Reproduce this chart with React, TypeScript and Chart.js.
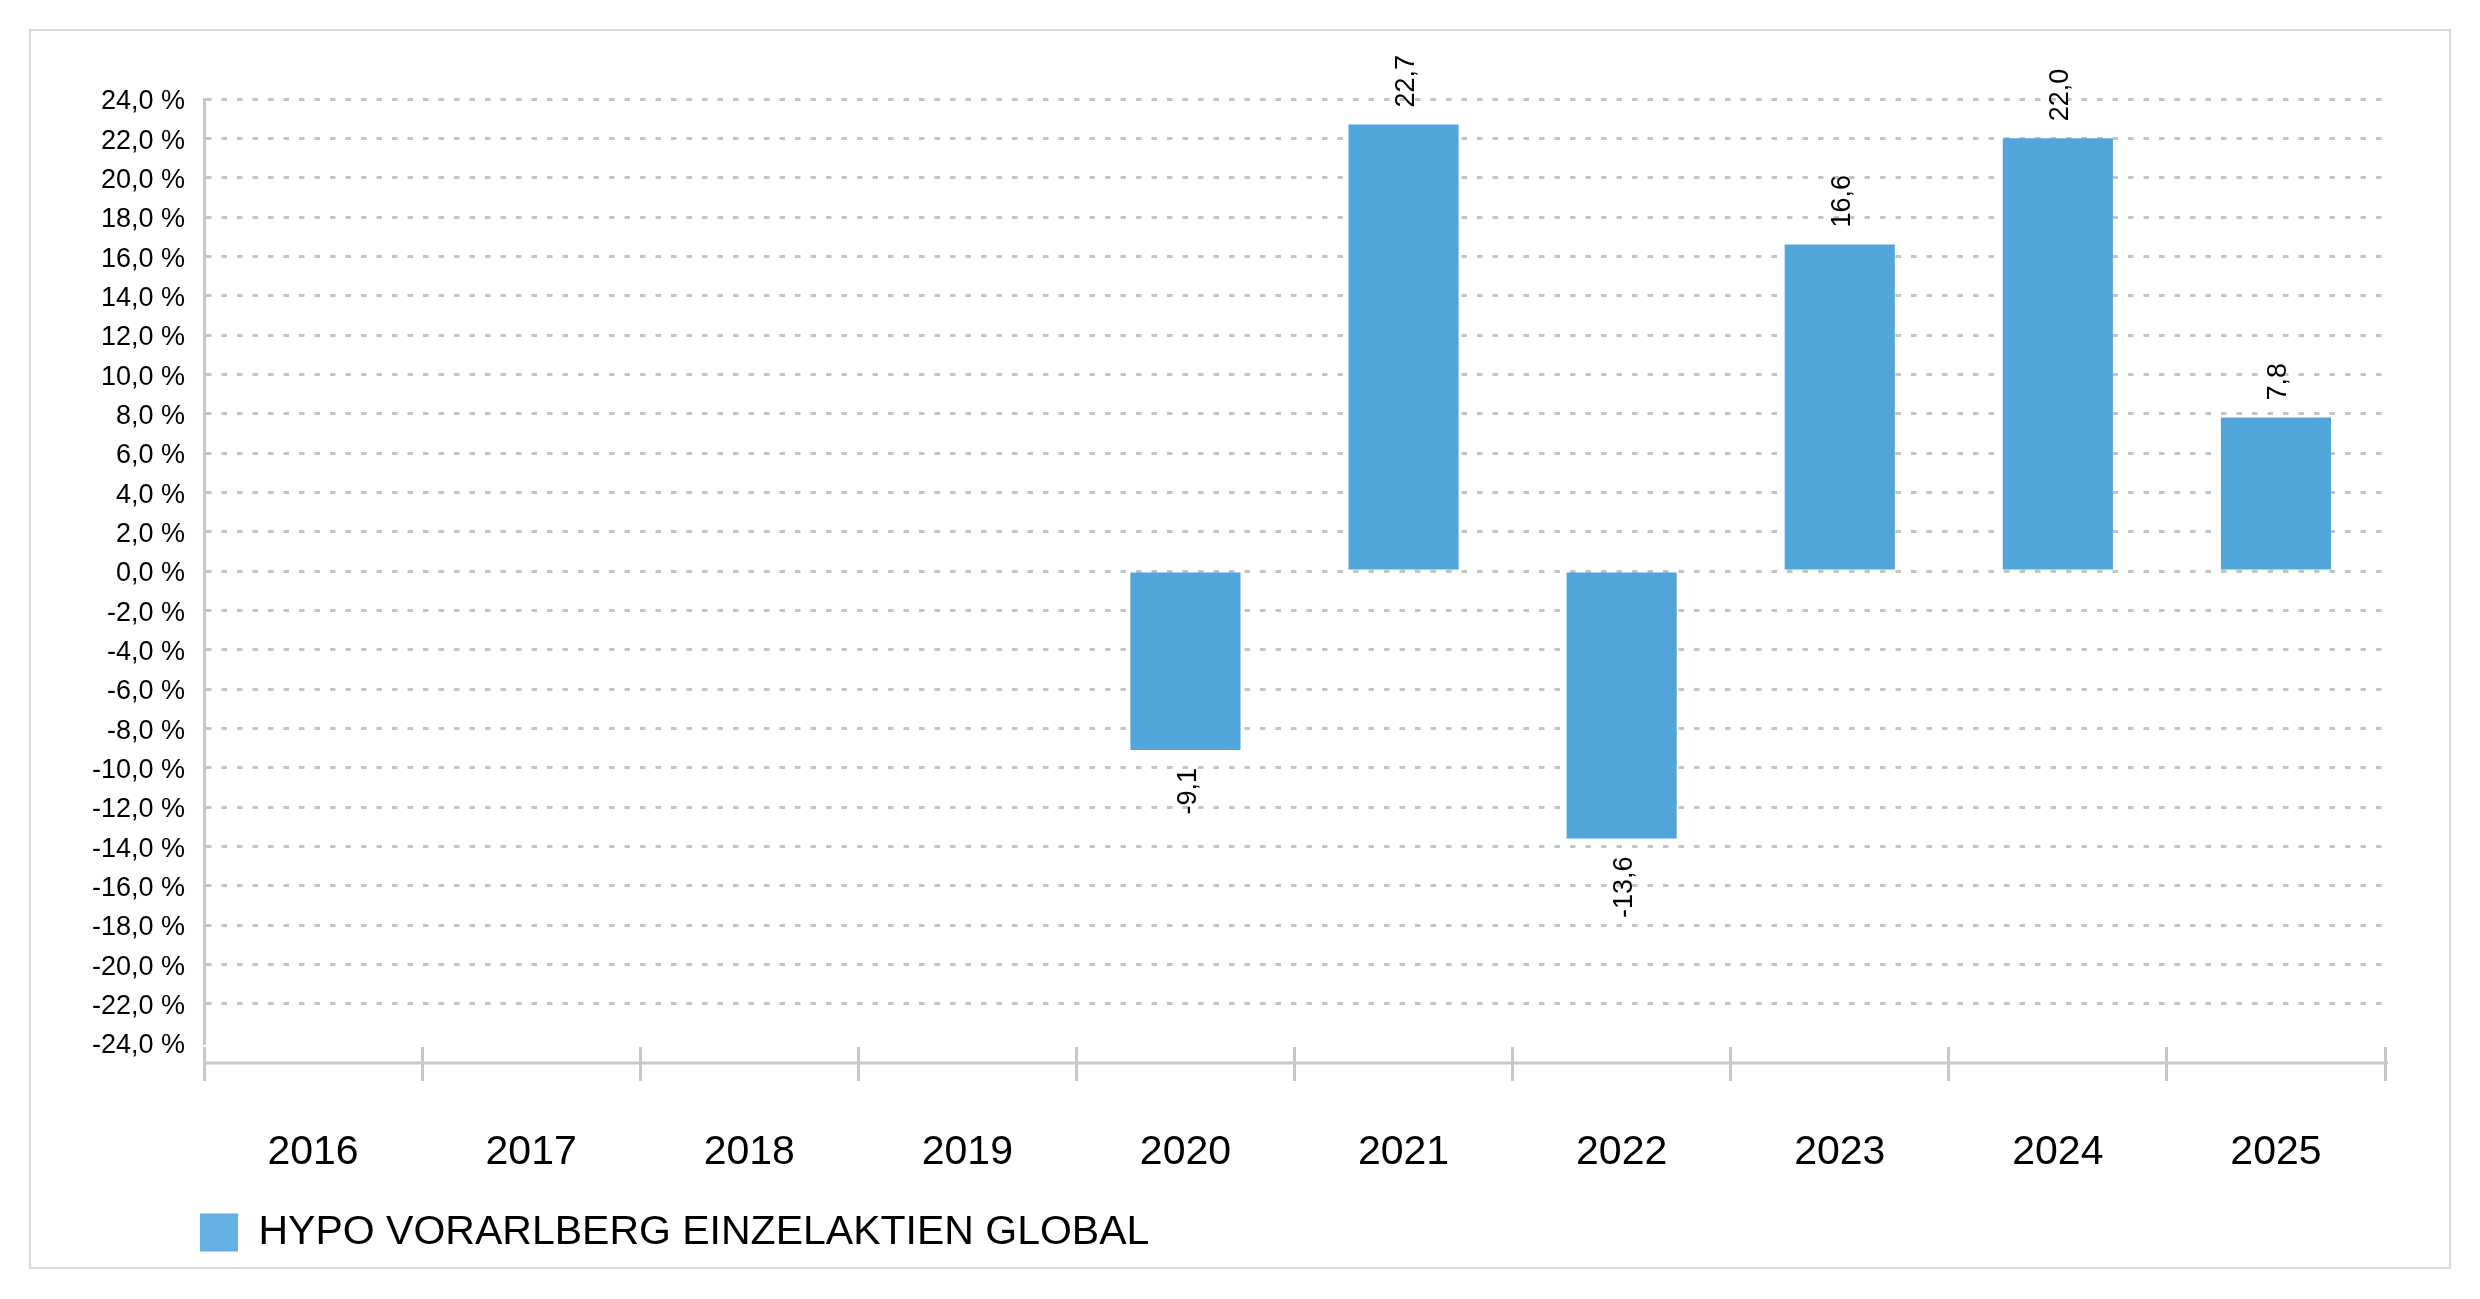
import React, { useEffect, useRef } from "react";
import { Chart, registerables } from "chart.js";

Chart.register(...registerables);

const categories = ["2016", "2017", "2018", "2019", "2020", "2021", "2022", "2023", "2024", "2025"];
const seriesName = "HYPO VORARLBERG EINZELAKTIEN GLOBAL";
const seriesValues: (number | null)[] = [null, null, null, null, -9.1, 22.7, -13.6, 16.6, 22.0, 7.8];
const yMin = -24;
const yMax = 24;
const yStep = 2;

const FONT = "'Liberation Sans', Arial, sans-serif";
const BAR_COLOR = "#51A5DB";
const LEGEND_COLOR = "#62B0E5";
const AXIS_COLOR = "#c8c8c8";
const GRID_COLOR = "#c4c4c4";

const fmt = (v: number) => v.toFixed(1).replace(".", ",");

const framePlugin = {
  id: "frame",
  beforeDraw(chart: any) {
    const { ctx } = chart;
    ctx.save();
    ctx.fillStyle = "#ffffff";
    ctx.fillRect(0, 0, chart.width, chart.height);
    ctx.strokeStyle = "#dadada";
    ctx.lineWidth = 2;
    ctx.strokeRect(30, 30, 2420, 1238);
    ctx.restore();
  },
};

const legendShiftPlugin = {
  id: "legendShift",
  afterLayout(chart: any) {
    const lg = chart.legend;
    if (lg) {
      const w = lg.right - lg.left;
      lg.left = 190;
      lg.right = 190 + w;
    }
  },
};

const xAxisLinePlugin = {
  id: "xAxisLine",
  afterDraw(chart: any) {
    const { ctx } = chart;
    const xs = chart.scales.x;
    ctx.save();
    ctx.strokeStyle = AXIS_COLOR;
    ctx.lineWidth = 3;
    ctx.beginPath();
    ctx.moveTo(xs.left, xs.top + 20);
    ctx.lineTo(xs.right + 3, xs.top + 20);
    ctx.stroke();
    ctx.restore();
  },
};

const valueLabelPlugin = {
  id: "valueLabels",
  afterDatasetsDraw(chart: any) {
    const { ctx } = chart;
    const meta = chart.getDatasetMeta(0);
    const data = chart.data.datasets[0].data as (number | null)[];
    ctx.save();
    ctx.font = `27px ${FONT}`;
    ctx.fillStyle = "#000000";
    ctx.textBaseline = "middle";
    meta.data.forEach((el: any, i: number) => {
      const v = data[i];
      if (v === null || v === undefined) return;
      ctx.save();
      if (v >= 0) {
        ctx.translate(el.x + 3, el.y - 17);
        ctx.rotate(-Math.PI / 2);
        ctx.textAlign = "left";
      } else {
        ctx.translate(el.x + 3, el.y + 18);
        ctx.rotate(-Math.PI / 2);
        ctx.textAlign = "right";
      }
      ctx.fillText(fmt(v), 0, 0);
      ctx.restore();
    });
    ctx.restore();
  },
};

export default function App() {
  const canvasRef = useRef<HTMLCanvasElement | null>(null);

  useEffect(() => {
    document.body.style.margin = "0";
    const canvas = canvasRef.current;
    if (!canvas) return;
    const chart = new Chart(canvas, {
      type: "bar",
      data: {
        labels: categories,
        datasets: [
          {
            label: seriesName,
            data: seriesValues,
            backgroundColor: BAR_COLOR,
            borderWidth: 0,
            categoryPercentage: 1,
            barPercentage: 0.505,
          },
        ],
      },
      options: {
        animation: false,
        responsive: false,
        devicePixelRatio: 1,
        layout: { padding: { left: 40, right: 95, top: 99, bottom: 36 } },
        plugins: {
          tooltip: { enabled: false },
          legend: {
            display: true,
            position: "bottom",
            align: "start",
            labels: {
              boxWidth: 38,
              boxHeight: 38,
              padding: 10,
              color: "#000000",
              font: { family: FONT, size: 41 },
              generateLabels: (c: any) => {
                const items = Chart.defaults.plugins.legend.labels.generateLabels(c);
                return items.map((it: any) => ({ ...it, fillStyle: LEGEND_COLOR, strokeStyle: LEGEND_COLOR, lineWidth: 0 }));
              },
            },
          },
        },
        scales: {
          x: {
            type: "category",
            offset: true,
            afterFit: (s: any) => {
              s.height = 159;
            },
            grid: {
              display: true,
              offset: true,
              drawOnChartArea: false,
              drawTicks: true,
              tickLength: 38,
              color: AXIS_COLOR,
              lineWidth: 3,
            },
            border: { display: true, width: 8, color: "rgba(0,0,0,0)" },
            ticks: {
              color: "#000000",
              font: { family: FONT, size: 41 },
              padding: 47,
              maxRotation: 0,
              autoSkip: false,
            },
          },
          y: {
            type: "linear",
            min: yMin,
            max: yMax,
            afterFit: (s: any) => {
              s.width = 164;
            },
            grid: {
              display: true,
              drawTicks: false,
              lineWidth: 3,
              color: (c: any) => (c.tick && c.tick.value === yMin ? "rgba(0,0,0,0)" : GRID_COLOR),
            },
            border: { display: true, width: 3, color: AXIS_COLOR, dash: [5.5, 10] },
            ticks: {
              stepSize: yStep,
              color: "#000000",
              font: { family: FONT, size: 27 },
              padding: 19,
              labelOffset: 3,
              callback: (v: any) => `${fmt(Number(v))} %`,
            },
          },
        },
      },
      plugins: [framePlugin, legendShiftPlugin, xAxisLinePlugin, valueLabelPlugin],
    } as any);
    return () => {
      chart.destroy();
    };
  }, []);

  return (
    <div style={{ position: "absolute", left: 0, top: 0, width: 2480, height: 1299, background: "#fff" }}>
      <canvas ref={canvasRef} width={2480} height={1299} style={{ display: "block", width: 2480, height: 1299 }} />
    </div>
  );
}
